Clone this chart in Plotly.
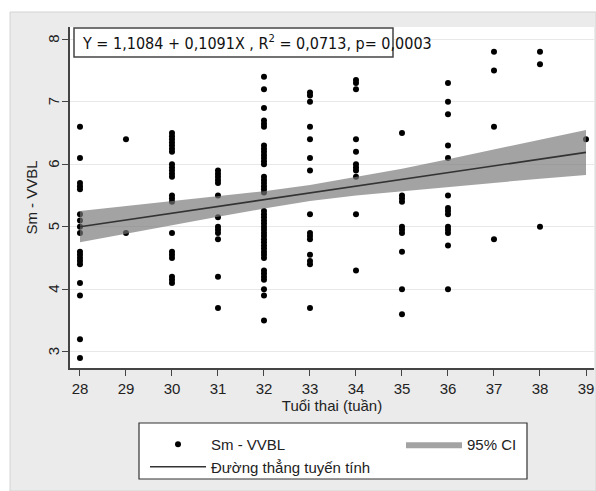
import plotly.graph_objects as go

# ---- data ----
weeks = [28, 29, 30, 31, 32, 33, 34, 35, 36, 37, 38, 39]
sm_w28 = [6.6, 6.1, 5.7, 5.65, 5.6, 5.2, 5.1, 5.0, 4.9, 4.6, 4.55, 4.5, 4.45, 4.4, 4.1, 3.9, 3.2, 2.9]
sm_w29 = [6.4, 4.9]
sm_w30 = [6.5, 6.45, 6.4, 6.35, 6.3, 6.25, 6.2, 6.0, 5.95, 5.9, 5.85, 5.8, 5.5, 5.45, 5.4, 4.9, 4.6, 4.55, 4.5, 4.2, 4.15, 4.1]
sm_w31 = [5.9, 5.85, 5.8, 5.75, 5.7, 5.5, 5.15, 5.0, 4.95, 4.9, 4.8, 4.2, 3.7]
sm_w32 = [7.4, 7.2, 6.9, 6.7, 6.65, 6.6, 6.3, 6.25, 6.2, 6.15, 6.1, 6.05, 6.0, 5.8, 5.75, 5.7, 5.65, 5.6, 5.55,
          5.25, 5.2, 5.15, 5.1, 5.05, 5.0, 4.95, 4.9, 4.85, 4.8, 4.75, 4.7, 4.65, 4.6, 4.55, 4.5,
          4.3, 4.25, 4.2, 4.15, 4.0, 3.9, 3.5]
sm_w33 = [7.15, 7.1, 7.0, 6.6, 6.4, 6.1, 5.9, 5.2, 4.9, 4.85, 4.8, 4.55, 4.45, 4.4, 3.7]
sm_w34 = [7.35, 7.3, 7.2, 6.4, 6.2, 6.0, 5.95, 5.9, 5.8, 5.2, 4.3]
sm_w35 = [6.5, 5.5, 5.45, 5.4, 5.0, 4.95, 4.9, 4.6, 4.0, 3.6]
sm_w36 = [7.3, 7.0, 6.8, 6.3, 6.1, 5.5, 5.3, 5.25, 5.2, 5.0, 4.95, 4.9, 4.7, 4.0]
sm_w37 = [7.8, 7.5, 6.6, 4.8]
sm_w38 = [7.8, 7.6, 5.0]
sm_w39 = [6.4]

fit_x = [28, 39]
fit_y = [5.00, 6.19]

ci_x = [28, 29, 30, 31, 32, 33, 34, 35, 36, 37, 38, 39]
ci_lo = [4.75, 4.89, 5.03, 5.16, 5.29, 5.41, 5.50, 5.57, 5.64, 5.70, 5.77, 5.83]
ci_hi = [5.25, 5.33, 5.41, 5.48, 5.57, 5.67, 5.80, 5.93, 6.08, 6.24, 6.39, 6.55]

x_ticks = [28, 29, 30, 31, 32, 33, 34, 35, 36, 37, 38, 39]
y_ticks = [3, 4, 5, 6, 7, 8]

equation_text = "Y = 1,1084 + 0,1091X , R<sup>2</sup> = 0,0713, p= 0,0003"
x_title = "Tuổi thai (tuần)"
y_title = "Sm - VVBL"
name_points = "Sm - VVBL"
name_ci = "95% CI"
name_fit = "Đường thẳng tuyến tính"

# ---- build ----
groups = [sm_w28, sm_w29, sm_w30, sm_w31, sm_w32, sm_w33, sm_w34, sm_w35, sm_w36, sm_w37, sm_w38, sm_w39]
px, py = [], []
for w, vals in zip(weeks, groups):
    px += [w] * len(vals)
    py += vals

FONT = "Liberation Sans, Arial, sans-serif"
fig = go.Figure()
fig.add_trace(go.Scatter(x=px, y=py, mode="markers", name=name_points, legend="legend",
                         marker=dict(color="black", size=6)))
fig.add_trace(go.Scatter(x=ci_x, y=ci_lo, mode="lines", line=dict(width=0),
                         showlegend=False, hoverinfo="skip"))
fig.add_trace(go.Scatter(x=ci_x, y=ci_hi, mode="lines", line=dict(width=0), legend="legend2",
                         fill="tonexty", fillcolor="rgba(120,120,120,0.68)", name=name_ci))
fig.add_trace(go.Scatter(x=fit_x, y=fit_y, mode="lines", name=name_fit, legend="legend",
                         line=dict(color="#333333", width=1.6)))

W, H = 596, 491
L, R, T, B = 70, 2, 27, 123
pw, ph = W - L - R, H - T - B

def pxx(v):
    return (v - L) / pw

def pxy(v):
    return (H - B - v) / ph

leg_font = dict(family=FONT, size=15, color="#222222")
annotations = [dict(text=equation_text, xref="paper", yref="paper",
                    x=pxx(80), y=pxy(42.5), xanchor="left", yanchor="middle",
                    showarrow=False,
                    font=dict(family="Liberation Sans Narrow, DejaVu Sans Condensed, Arial Narrow, sans-serif",
                              size=16, color="#111111"))]
for v in y_ticks:
    annotations.append(dict(text=str(v), xref="paper", yref="y", x=0, y=v,
                            xanchor="right", yanchor="middle", xshift=-6, textangle=-90,
                            showarrow=False, font=dict(family=FONT, size=15, color="#222222")))

fig.update_layout(
    width=W, height=H,
    margin=dict(l=L, r=R, t=T, b=B),
    paper_bgcolor="white", plot_bgcolor="white",
    font=dict(family=FONT, size=15, color="#222222"),
    showlegend=True,
    legend=dict(orientation="v", x=pxx(139), y=pxy(428), xanchor="left", yanchor="top",
                traceorder="normal", bgcolor="rgba(0,0,0,0)", borderwidth=0,
                itemwidth=56, indentation=6, font=leg_font),
    legend2=dict(orientation="v", x=pxx(401), y=pxy(428), xanchor="left", yanchor="top",
                 bgcolor="rgba(0,0,0,0)", borderwidth=0, itemwidth=56, font=leg_font),
    xaxis=dict(range=[27.783, 39.174], tickvals=x_ticks, showgrid=False, zeroline=False,
               showline=True, linecolor="#444444", linewidth=1.5,
               ticks="outside", ticklen=6, tickcolor="#444444", tickwidth=1.3,
               ticklabelstandoff=0,
               title=dict(text=x_title, standoff=4, font=dict(size=15))),
    yaxis=dict(range=[2.739, 8.197], tickvals=y_ticks, showgrid=True, gridcolor="#e8e8e8",
               gridwidth=1, zeroline=False, showticklabels=False,
               showline=True, linecolor="#444444", linewidth=1.5,
               ticks="outside", ticklen=6, tickcolor="#444444", tickwidth=1.3,
               title=dict(text=y_title, standoff=21, font=dict(size=15))),
    shapes=[
        dict(type="rect", xref="paper", yref="paper", layer="below",
             x0=pxx(10), x1=pxx(596), y0=pxy(491), y1=pxy(12),
             fillcolor="#ebebeb", line=dict(color="#d4d4d4", width=1)),
        dict(type="rect", xref="paper", yref="paper", layer="below",
             x0=0, x1=1, y0=0, y1=1, fillcolor="white", line=dict(width=0)),
        dict(type="rect", xref="paper", yref="paper", layer="below",
             x0=pxx(139), x1=pxx(527), y0=pxy(479), y1=pxy(423),
             fillcolor="white", line=dict(color="#333333", width=1.2)),
        dict(type="rect", xref="paper", yref="paper", layer="above",
             x0=pxx(74), x1=pxx(393), y0=pxy(57), y1=pxy(28),
             fillcolor="white", line=dict(color="#444444", width=1.5)),
    ],
    annotations=annotations,
)

fig.write_html("out.html")
